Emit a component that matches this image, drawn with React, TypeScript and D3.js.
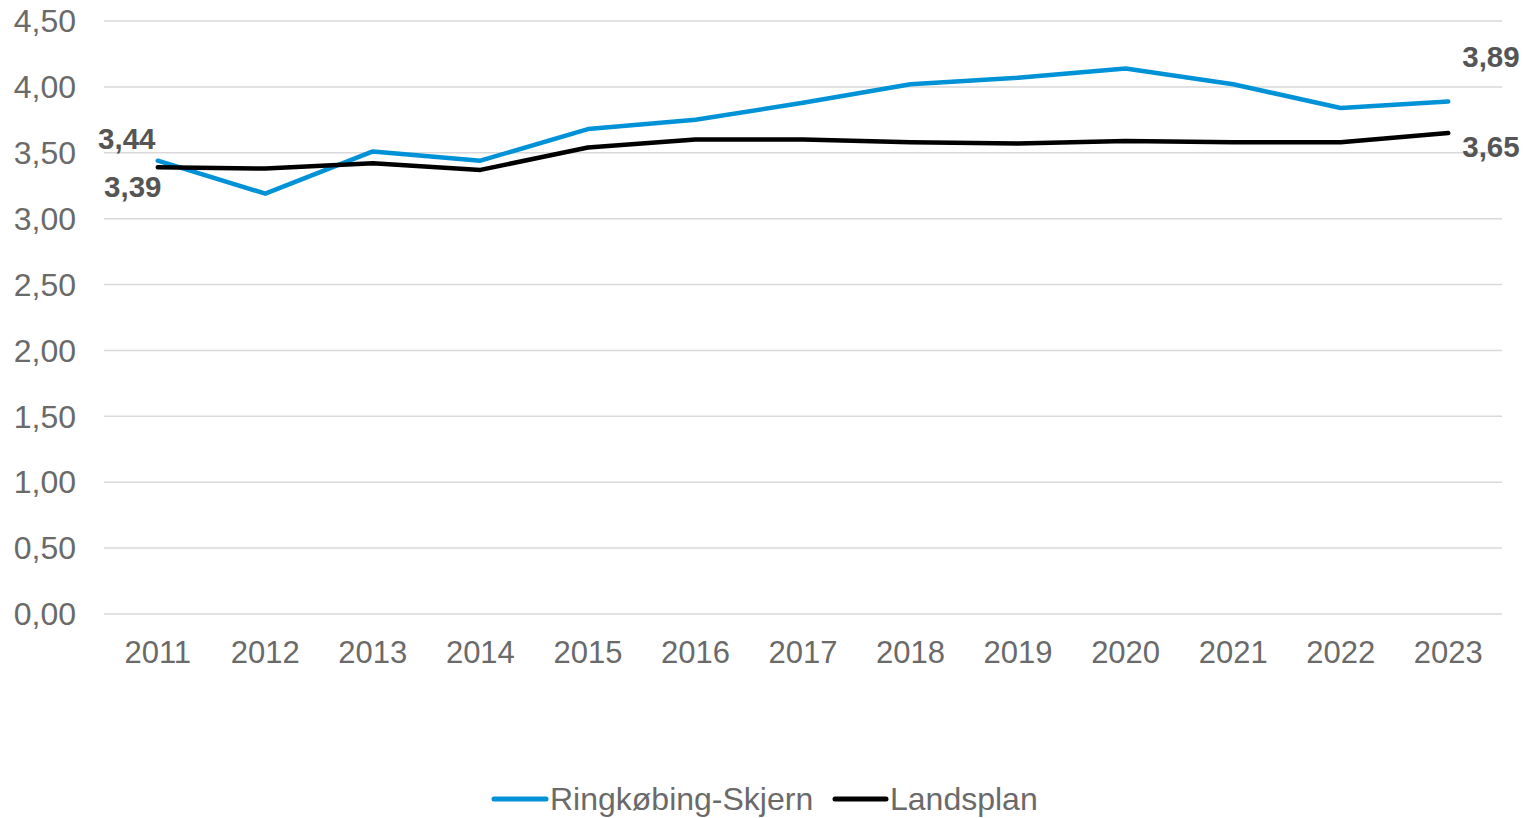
import React from "react";
import * as d3 from "d3";

const years = ["2011", "2012", "2013", "2014", "2015", "2016", "2017", "2018", "2019", "2020", "2021", "2022", "2023"];
const ringkobing = [3.44, 3.19, 3.51, 3.44, 3.68, 3.75, 3.88, 4.02, 4.07, 4.14, 4.02, 3.84, 3.89];
const landsplan = [3.39, 3.38, 3.42, 3.37, 3.54, 3.6, 3.6, 3.58, 3.57, 3.59, 3.58, 3.58, 3.65];
const yTicks = [0, 0.5, 1, 1.5, 2, 2.5, 3, 3.5, 4, 4.5];

const W = 1524;
const H = 818;
const left = 104;
const right = 1502;
const top = 21;
const bottom = 614;

const fmt = (v: number) => v.toFixed(2).replace(".", ",");

export default function App() {
  const x = d3.scaleBand<string>().domain(years).range([left, right]);
  const y = d3.scaleLinear().domain([0, 4.5]).range([bottom, top]);
  const cx = (i: number) => (x(years[i]) as number) + x.bandwidth() / 2;

  const line = d3
    .line<number>()
    .x((_, i) => cx(i))
    .y((d) => y(d));

  const series = [
    { name: "Ringkøbing-Skjern", values: ringkobing, color: "#0092D6" },
    { name: "Landsplan", values: landsplan, color: "#000000" },
  ];

  const last = years.length - 1;

  return (
    <svg
      width={W}
      height={H}
      style={{ position: "absolute", left: 0, top: 0 }}
      fontFamily="'Liberation Sans', Arial, sans-serif"
    >
      <rect width={W} height={H} fill="#ffffff" />
      {yTicks.map((t) => (
        <g key={t}>
          <line x1={left} x2={right} y1={y(t)} y2={y(t)} stroke="#d9d9d9" strokeWidth={1.5} />
          <text x={76} y={y(t)} dy="0.35em" textAnchor="end" fontSize={32} fill="#6a6a6a">
            {fmt(t)}
          </text>
        </g>
      ))}
      {years.map((yr, i) => (
        <text key={yr} x={cx(i)} y={652} dy="0.35em" textAnchor="middle" fontSize={31} fill="#6a6a6a">
          {yr}
        </text>
      ))}
      {series.map((s) => (
        <path
          key={s.name}
          d={line(s.values) || ""}
          fill="none"
          stroke={s.color}
          strokeWidth={4.5}
          strokeLinejoin="round"
          strokeLinecap="round"
        />
      ))}
      <g fontSize={29.5} fontWeight="bold" fill="#555555">
        <text x={cx(0) - 31} y={y(ringkobing[0]) - 22} dy="0.35em" textAnchor="middle">
          {fmt(ringkobing[0])}
        </text>
        <text x={cx(0) - 25} y={y(landsplan[0]) + 19} dy="0.35em" textAnchor="middle">
          {fmt(landsplan[0])}
        </text>
        <text x={cx(last) + 14} y={y(ringkobing[last]) - 45} dy="0.35em" textAnchor="start">
          {fmt(ringkobing[last])}
        </text>
        <text x={cx(last) + 14} y={y(landsplan[last]) + 14} dy="0.35em" textAnchor="start">
          {fmt(landsplan[last])}
        </text>
      </g>
      <g>
        <line x1={494} x2={546} y1={799} y2={799} stroke="#0092D6" strokeWidth={5} strokeLinecap="round" />
        <text x={550} y={799} dy="0.35em" fontSize={32} fill="#6a6a6a">
          Ringkøbing-Skjern
        </text>
        <line x1={835} x2={886} y1={799} y2={799} stroke="#000000" strokeWidth={5} strokeLinecap="round" />
        <text x={890} y={799} dy="0.35em" fontSize={32} fill="#6a6a6a">
          Landsplan
        </text>
      </g>
    </svg>
  );
}
